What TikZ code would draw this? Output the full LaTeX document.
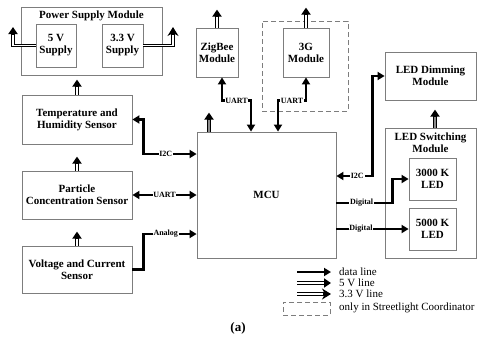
\documentclass[tikz,border=0pt]{standalone}
\usepackage{fontspec}
\setmainfont{Liberation Serif}
\usetikzlibrary{arrows.meta,calc}
\definecolor{boxgray}{RGB}{125,125,125}
\definecolor{shaftgray}{RGB}{140,140,140}
\begin{document}
\begin{tikzpicture}[x=1pt,y=-1pt,
  blk/.style={draw=boxgray, line width=0.8pt, align=center, inner sep=0pt,
    font=\fontsize{11}{12}\selectfont\bfseries},
  ttl/.style={align=center, inner sep=0pt, font=\fontsize{11}{12}\selectfont\bfseries},
  lbl/.style={fill=white, inner sep=0.8pt, font=\fontsize{8}{8}\selectfont\bfseries},
  leg/.style={anchor=west, inner sep=0pt, font=\fontsize{11}{12}\selectfont},
  data/.style={line width=2.4pt, -{Triangle[length=7pt,width=8pt]}},
  databoth/.style={line width=2.4pt, {Triangle[length=7pt,width=8pt]}-{Triangle[length=7pt,width=8pt]}},
  fivev/.style={line width=3.6pt, draw=black, -{Triangle[length=7pt,width=9pt]},
    postaction={draw=white, line width=1.4pt, shorten >=7.5pt, -}},
  graypw/.style={line width=3.6pt, draw=black, -{Triangle[length=7pt,width=9pt]},
    postaction={draw=shaftgray, line width=1.6pt, shorten >=7.5pt, -}},
  threev/.style={line width=3.6pt, draw=black, -{Stealth[length=9pt,width=11pt,inset=3pt]},
    postaction={draw=white, line width=1.4pt, shorten >=8pt, -}},
  dashbox/.style={draw=boxgray, line width=0.8pt, dash pattern=on 5pt off 3pt}
]
\useasboundingbox (0,0) rectangle (477,343);
\fill[white] (0,0) rectangle (477,343);

% power supply
\node[blk, minimum width=141pt, minimum height=68pt] (pwr) at (91.5,41) {};
\node[ttl] (pwrt) at (91.5,16) {Power Supply Module};
\node[blk, minimum width=40pt, minimum height=43pt] (v5) at (56,45.5) {5 V\\Supply};
\node[blk, minimum width=41pt, minimum height=43pt] (v33) at (122.5,45.5) {3.3 V\\Supply};
\coordinate (c5) at (13,27);
\coordinate (c33) at (173,27);
\draw[fivev] (v5.west) -| (c5);
\draw[threev] (v33.east) -| (c33);

% sensors
\node[blk, minimum width=110pt, minimum height=49pt] (temp) at (77,119.5) {Temperature and\\Humidity Sensor};
\node[blk, minimum width=110pt, minimum height=48pt] (part) at (77,195) {Particle\\Concentration Sensor};
\node[blk, minimum width=110pt, minimum height=47pt] (volt) at (77,269.5) {Voltage and Current\\Sensor};
\draw[fivev] (temp.north) -- ++(0,-15);
\draw[fivev] (part.north) -- ++(0,-14);
\draw[fivev] (volt.north) -- ++(0,-14);

% MCU
\node[blk, minimum width=139pt, minimum height=126pt] (mcu) at (266.5,195) {MCU};
\draw[graypw] ([xshift=-57.5pt]mcu.north) -- ++(0,-19);

\draw[databoth] (temp.east) -- ++(11,0) |- ([yshift=41pt]mcu.west) node[lbl,pos=0.71] (li2c) {I2C};
\draw[databoth] (part.east) -- (mcu.west) node[lbl,midway] (luart) {UART};
\draw[data] (volt.east) -- ++(11,0) |- ([yshift=-39pt]mcu.west) node[lbl,pos=0.71] (lana) {Analog};

% communication modules
\node[dashbox, minimum width=86pt, minimum height=90pt, inner sep=0pt] (dash3g) at (305,66) {};
\node[blk, minimum width=42pt, minimum height=49pt] (zig) at (217,52.5) {ZigBee\\Module};
\node[blk, minimum width=46pt, minimum height=49pt] (g3) at (306,52.5) {3G\\Module};
\draw[fivev] (zig.north) -- ++(0,-18);
\draw[fivev] (g3.north) -- ++(0,-20);
\draw[databoth] ([xshift=5pt]zig.south) -- ++(0,23) -| ([xshift=-15.5pt]mcu.north) node[lbl,pos=0.25] (luz) {UART};
\draw[databoth] (g3.south) -- ++(0,23) -| ([xshift=11.5pt]mcu.north) node[lbl,pos=0.25] (lug) {UART};

% LED modules
\node[blk, minimum width=91pt, minimum height=48pt] (dim) at (430.5,76) {LED Dimming\\Module};
\node[blk, minimum width=91pt, minimum height=130pt] (sw) at (430.5,193) {};
\node[ttl] (swt) at (430.5,143) {LED Switching\\Module};
\node[blk, minimum width=47pt, minimum height=42pt] (k3) at (432.5,179) {3000 K\\LED};
\node[blk, minimum width=47pt, minimum height=42pt] (k5) at (432.5,229) {5000 K\\LED};
\draw[graypw] ([xshift=4.5pt]sw.north) -- ++(0,-18);

\draw[databoth] ([yshift=19pt]mcu.east) -- ++(36,0) node[lbl,pos=0.58] (li2cr) {I2C} |- (dim.west);
\draw[data] ([yshift=-8pt]mcu.east) -- ++(56,0) node[lbl,pos=0.45] (ld1) {Digital} |- (k3.west);
\draw[data] (mcu.east |- k5.west) -- (k5.west) node[lbl,pos=0.34] (ld2) {Digital};

% legend
\coordinate (la1) at (297,272); \coordinate (lb1) at (331,272);
\coordinate (la2) at (297,283); \coordinate (lb2) at (331,283);
\coordinate (la3) at (297,294); \coordinate (lb3) at (331,294);
\draw[data] (la1) -- (lb1);
\draw[fivev] (la2) -- (lb2);
\draw[threev] (la3) -- (lb3);
\node[dashbox, minimum width=47pt, minimum height=13pt, inner sep=0pt] (ld) at (306.5,308.5) {};
\node[leg] (t1) at (339,272) {data line};
\node[leg] (t2) at (339,283) {5 V line};
\node[leg] (t3) at (339,294) {3.3 V line};
\node[leg] (t4) at (339,308) {only in Streetlight Coordinator};

\node[font=\fontsize{13}{14}\selectfont\bfseries, inner sep=0pt] (cap) at (238,328) {(a)};
\end{tikzpicture}
\end{document}
